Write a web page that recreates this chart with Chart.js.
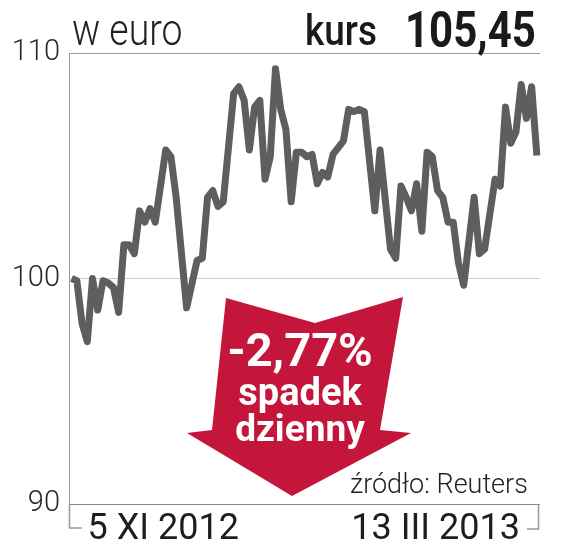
<!DOCTYPE html>
<html>
<head>
<meta charset="utf-8">
<script src="https://cdn.jsdelivr.net/npm/chart.js@4/dist/chart.umd.min.js"></script>
<style>
  html, body { margin: 0; padding: 0; background: #fff; }
  #wrap { position: relative; width: 566px; height: 549px; overflow: hidden; }
  canvas { position: absolute; left: 0; top: 0; }
  .t { position: absolute; white-space: nowrap; line-height: 1; font-family: Roboto, "Noto Sans", sans-serif; transform-origin: 0 0; }
  .a { position: absolute; left: 150px; width: 300px; text-align: center; color: #fff; font-weight: 700; white-space: nowrap; line-height: 1; font-family: Roboto, "Noto Sans", sans-serif; }
</style>
</head>
<body>
<div id="wrap">
  <canvas id="c" width="566" height="549"></canvas>
  <div class="t" style="left:72px;top:8px;font-size:44px;font-weight:300;color:#222;transform:scaleX(0.85);">w euro</div>
  <div class="t" style="left:305px;top:10px;font-size:42px;font-weight:500;color:#1a1a1a;transform:scaleX(0.88);">kurs</div>
  <div class="t" style="left:405px;top:5px;font-size:50px;font-weight:700;color:#1a1a1a;transform:scaleX(0.84);">105,45</div>
  <div class="t" style="left:350px;top:471px;font-size:27px;font-weight:300;color:#222;">źródło: Reuters</div>
  <div class="a" style="top:326px;font-size:47px;">-2,77%</div>
  <div class="a" style="top:373px;font-size:38px;">spadek</div>
  <div class="a" style="top:410px;font-size:37px;">dzienny</div>
</div>
<script>
// trading-day index since 5 XI 2012
const days = [0,1,2,3,4,5,6,7,8,9,10,11,12,13,14,15,16,18,19,20,22,24,25,26,27,28,29,31,32,33,34,35,36,37,38,39,40,41,42,43,44,45,46,47,48,49,50,51,52,53,54,55,56,58,59,61,62,63,64,65,66,67,68,69,70,71,72,73,74,75,77,78,79,81,82,83,84,85,86,87,88,89];
const kurs = [100.0,99.9,98.0,97.2,100.0,98.6,99.9,99.8,99.6,98.5,101.5,101.5,101.1,103.0,102.5,103.1,102.5,105.7,105.4,103.6,98.7,100.8,100.9,103.6,103.9,103.2,103.4,108.2,108.5,107.9,105.7,107.6,107.9,104.4,105.4,109.3,107.5,106.6,103.4,105.6,105.6,105.4,105.5,104.2,104.7,104.5,105.5,105.8,106.1,107.5,107.4,107.5,107.4,103.0,105.7,101.3,100.9,104.1,103.6,103.0,104.2,102.1,105.6,105.4,103.9,103.6,102.5,102.5,100.7,99.7,103.6,101.1,101.3,104.4,104.1,107.6,106.0,106.5,108.6,107.1,108.5,105.45];
const yTicks = [90, 100, 110];
const xTickLabels = ['5 XI 2012', '13 III 2013'];

const points = days.map((d, i) => ({ x: d, y: kurs[i] }));

const decor = {
  id: 'decor',
  beforeDatasetsDraw(chart) {
    const ctx = chart.ctx;
    // red arrow annotation
    ctx.save();
    ctx.fillStyle = '#c4153a';
    ctx.beginPath();
    const poly = [[226,298],[315,323],[403,297],[380,430],[411,433],[292,496],[187,433],[212,430]];
    poly.forEach((p, i) => i ? ctx.lineTo(p[0], p[1]) : ctx.moveTo(p[0], p[1]));
    ctx.closePath();
    ctx.fill();
    ctx.restore();
  },
  afterDraw(chart) {
    const ctx = chart.ctx;
    const a = chart.chartArea;
    const xs = chart.scales.x;
    ctx.save();
    ctx.strokeStyle = '#999';
    ctx.lineWidth = 1.5;
    ctx.beginPath();
    ctx.moveTo(a.left + 0.5, a.bottom);
    ctx.lineTo(a.left + 0.5, a.bottom + 24);
    ctx.lineTo(a.left + 13, a.bottom + 24);
    ctx.moveTo(a.right - 1.5, a.bottom);
    ctx.lineTo(a.right - 1.5, a.bottom + 25);
    ctx.lineTo(a.right - 13, a.bottom + 25);
    ctx.stroke();
    ctx.fillStyle = '#1e1e1e';
    ctx.font = '400 36px Roboto, "Noto Sans", sans-serif';
    ctx.textBaseline = 'alphabetic';
    ctx.textAlign = 'left';
    ctx.fillText(xTickLabels[0], xs.getPixelForValue(days[0]) + 16, a.bottom + 35);
    ctx.textAlign = 'right';
    ctx.fillText(xTickLabels[1], xs.getPixelForValue(days[days.length - 1]) - 17, a.bottom + 35);
    ctx.restore();
  }
};

new Chart(document.getElementById('c'), {
  type: 'line',
  data: {
    datasets: [{
      data: points,
      borderColor: '#5e5e60',
      borderWidth: 7,
      borderJoinStyle: 'round',
      borderCapStyle: 'butt',
      pointRadius: 0,
      tension: 0,
      fill: false,
      clip: false
    }]
  },
  options: {
    responsive: false,
    animation: false,
    devicePixelRatio: 1,
    layout: { padding: { left: 0, top: 53, right: 26, bottom: 45 } },
    plugins: { legend: { display: false }, tooltip: { enabled: false }, title: { display: false } },
    scales: {
      x: { type: 'linear', min: -0.5, max: 89.6, display: false },
      y: {
        min: 90, max: 110,
        afterFit(s) { s.width = 69; },
        afterBuildTicks(s) { s.ticks = yTicks.map(v => ({ value: v })); },
        border: { display: true, color: '#999', width: 1 },
        grid: {
          drawTicks: false,
          lineWidth: 1,
          color: (c) => c.tick && c.tick.value === 100 ? '#cfcfcf' : (c.tick && c.tick.value === 90 ? '#8a8a8a' : '#9a9a9a')
        },
        ticks: {
          padding: 9,
          color: '#2a2a2a',
          font: { family: 'Roboto, "Noto Sans", sans-serif', size: 29, weight: '300' },
          callback: (v) => String(v)
        }
      }
    }
  },
  plugins: [decor]
});
</script>
</body>
</html>
